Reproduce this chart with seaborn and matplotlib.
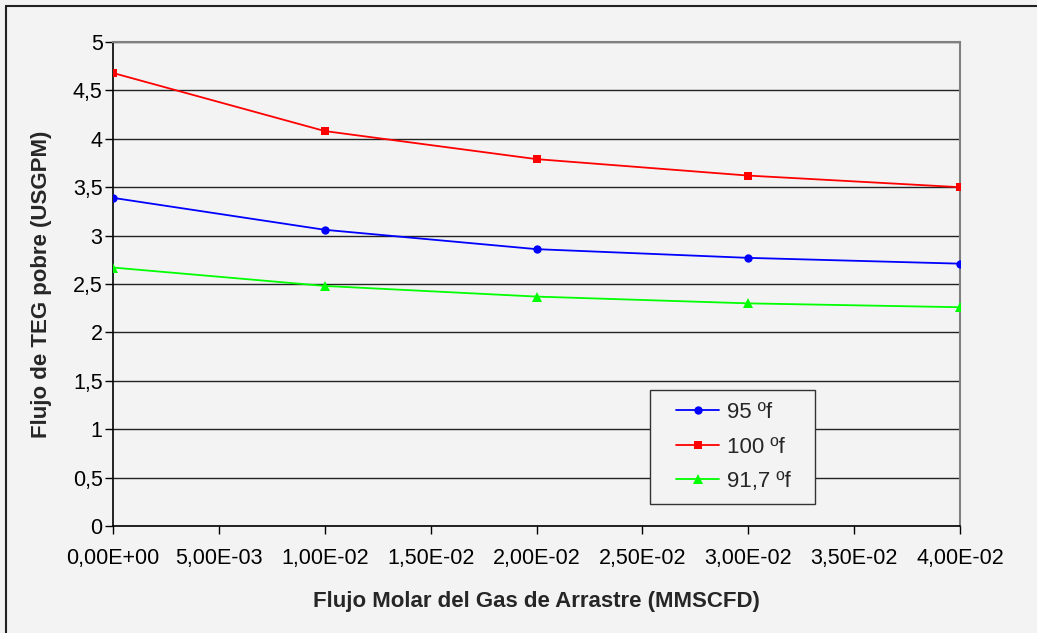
import matplotlib
matplotlib.use("Agg")
import matplotlib.pyplot as plt
from matplotlib.ticker import FuncFormatter, MultipleLocator
from matplotlib.lines import Line2D
from matplotlib.legend_handler import HandlerLine2D
import seaborn as sns
import pandas as pd

# Caudal molar del gas de arrastre (MMSCFD)
flujo_gas = [0.0, 0.01, 0.02, 0.03, 0.04]

# Flujo de TEG pobre (USGPM) para cada temperatura
teg_95 = [3.39, 3.06, 2.86, 2.77, 2.71]
teg_100 = [4.68, 4.08, 3.79, 3.62, 3.50]
teg_91_7 = [2.67, 2.48, 2.37, 2.30, 2.26]

series_labels = ["95 ºf", "100 ºf", "91,7 ºf"]
series_colors = ["#0000ff", "#ff0000", "#00ff00"]
series_markers = ["o", "s", "^"]

bg = "#f3f3f3"

sns.set_theme(style="white")
plt.rcParams["font.family"] = ["Liberation Sans", "DejaVu Sans"]

fig = plt.figure(figsize=(10.37, 6.33), dpi=100, facecolor=bg)
ax = fig.add_axes([113 / 1037, 1 - 526 / 633, (960 - 113) / 1037, (526 - 42) / 633])
ax.set_facecolor(bg)

frames = []
for lab, vals in zip(series_labels, [teg_95, teg_100, teg_91_7]):
    frames.append(pd.DataFrame({"x": flujo_gas, "y": vals, "serie": lab}))
df = pd.concat(frames, ignore_index=True)

for lab, col, mk in zip(series_labels, series_colors, series_markers):
    sub = df[df["serie"] == lab]
    sns.lineplot(data=sub, x="x", y="y", ax=ax, color=col, marker=mk,
                 markersize=6 if mk != "^" else 7, markeredgewidth=0,
                 linewidth=1.3, legend=False, zorder=3)

ax.set_xlim(0, 0.04)
ax.set_ylim(0, 5)
ax.xaxis.set_major_locator(MultipleLocator(0.005))
ax.yaxis.set_major_locator(MultipleLocator(0.5))


def fmt_y(v, pos):
    s = f"{v:g}"
    return s.replace(".", ",")


def fmt_x(v, pos):
    s = f"{v:.2E}"
    return s.replace(".", ",")


ax.yaxis.set_major_formatter(FuncFormatter(fmt_y))
ax.xaxis.set_major_formatter(FuncFormatter(fmt_x))
ax.tick_params(axis="both", labelsize=15.5, colors="black", length=6, width=1,
               direction="out")
ax.tick_params(axis="y", pad=1.5)
ax.tick_params(axis="x", pad=10)
ax.tick_params(bottom=True, left=True)

ax.grid(axis="y", color="#222222", linewidth=1)
ax.grid(axis="x", visible=False)
for side in ["left", "bottom"]:
    ax.spines[side].set_color("black")
    ax.spines[side].set_linewidth(1.2)
for side in ["top", "right"]:
    ax.spines[side].set_color("#808080")
    ax.spines[side].set_linewidth(1.5)

ax.set_xlabel("Flujo Molar del Gas de Arrastre (MMSCFD)", fontsize=16,
              fontweight="bold", labelpad=16)
ax.set_ylabel("Flujo de TEG pobre (USGPM)", fontsize=16, fontweight="bold",
              labelpad=15)


class IndentedLineHandler(HandlerLine2D):
    """Legend line handler that leaves an empty gap before the sample line."""

    def __init__(self, indent=10, **kw):
        super().__init__(**kw)
        self.indent = indent

    def create_artists(self, legend, orig_handle, xdescent, ydescent, width,
                       height, fontsize, trans):
        return super().create_artists(legend, orig_handle,
                                      xdescent - self.indent, ydescent,
                                      width - self.indent, height, fontsize,
                                      trans)


handles = [Line2D([], [], color=c, marker=m, markersize=6 if m != "^" else 7,
                  markeredgewidth=0, linewidth=1.3)
           for c, m in zip(series_colors, series_markers)]
leg = fig.legend(handles, [s + "  " for s in series_labels], loc="upper left",
                 bbox_to_anchor=(650 / 1037, 1 - 390 / 633), fontsize=16,
                 frameon=True, fancybox=False, edgecolor="#333333",
                 facecolor=bg, framealpha=1, handlelength=2.55,
                 labelspacing=0.6, borderpad=0.55, borderaxespad=0,
                 handletextpad=0.35,
                 handler_map={Line2D: IndentedLineHandler(indent=10)})
leg.get_frame().set_linewidth(1)

# marco exterior del gráfico
fig.add_artist(Line2D([6 / 1037, 6 / 1037], [0, 1 - 6 / 633], color="#222222",
                      linewidth=1.5, transform=fig.transFigure))
fig.add_artist(Line2D([6 / 1037, 1], [1 - 6 / 633, 1 - 6 / 633], color="#222222",
                      linewidth=1.5, transform=fig.transFigure))

fig.savefig("out.png", dpi=100, facecolor=bg)
